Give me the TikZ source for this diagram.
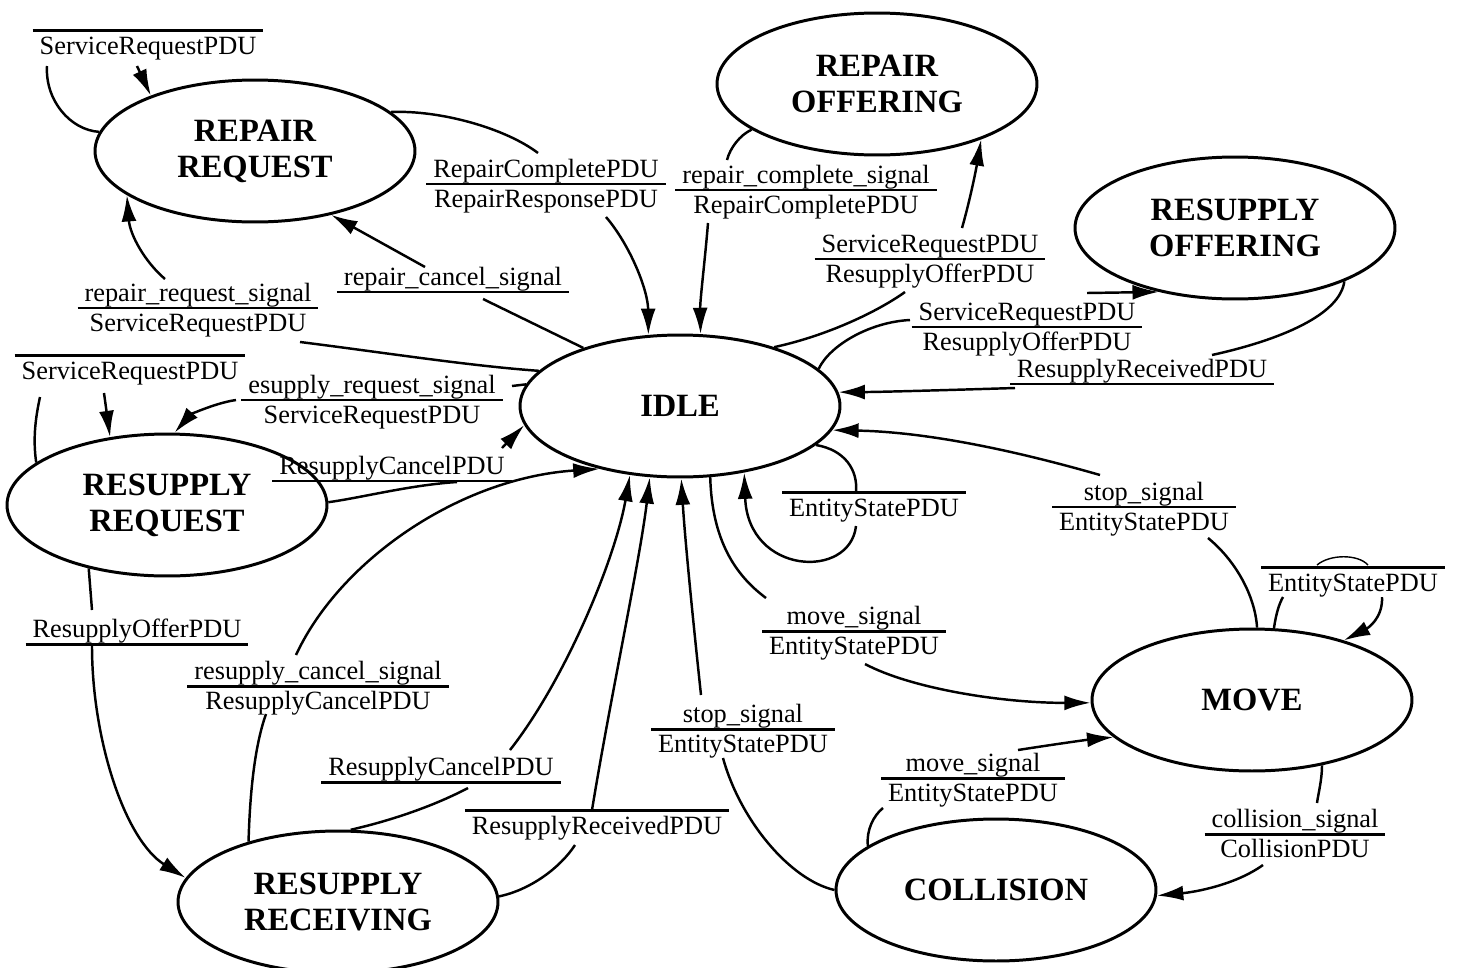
\documentclass[tikz,border=0pt]{standalone}
\usepackage{fontspec}
\setmainfont{Liberation Serif}
\usetikzlibrary{shapes.geometric,arrows.meta,calc}
\setlength{\arrayrulewidth}{1.4pt}
% transition label: input over a bar over output; struts keep the bar at the centre
\newcommand{\tlab}[2]{{\renewcommand{\arraystretch}{0}%
  \begin{tabular}{@{\hspace{4pt}}c@{\hspace{4pt}}}%
  \rule[-2.6pt]{0pt}{16.8pt}#1\\\hline
  \rule[-3.4pt]{0pt}{16pt}#2\end{tabular}}}

\begin{document}
\begin{tikzpicture}[x=0.02cm,y=-0.02cm,
  state/.style={ellipse,draw,line width=1.7pt,minimum width=6.4cm,minimum height=2.84cm,
    inner sep=0pt,align=center,font=\fontsize{18.5}{20.5}\selectfont\bfseries},
  trans/.style={inner sep=0pt,font=\fontsize{15}{18}\selectfont},
  wire/.style={line width=1.4pt},
  arr/.style={wire,-{Latex[length=15pt,width=8.5pt]}}]

\fill[white] (0,0) rectangle (1457,967);
\useasboundingbox (0,0) rectangle (1457,967);

% states
\node[state] (RR)   at (255,151)  {REPAIR\\REQUEST};
\node[state] (RO)   at (877,84)   {REPAIR\\OFFERING};
\node[state] (RSO)  at (1235,228) {RESUPPLY\\OFFERING};
\node[state] (IDLE) at (680,406)  {IDLE};
\node[state] (RSQ)  at (167,505)  {RESUPPLY\\REQUEST};
\node[state] (RRCV) at (338,902)  {RESUPPLY\\RECEIVING};
\node[state] (MOVE) at (1252,700) {MOVE};
\node[state] (COL)  at (996,890)  {COLLISION};

% transition labels (anchored on their bars)
\node[trans] (L1)  at (148,30)   {\tlab{}{ServiceRequestPDU}};
\node[trans] (L2)  at (546,183)  {\tlab{RepairCompletePDU}{RepairResponsePDU}};
\node[trans] (L3)  at (806,189)  {\tlab{repair\_complete\_signal}{RepairCompletePDU}};
\node[trans] (L4)  at (453,291)  {\tlab{repair\_cancel\_signal}{}};
\node[trans] (L5)  at (198,307)  {\tlab{repair\_request\_signal}{ServiceRequestPDU}};
\node[trans] (L6)  at (930,258)  {\tlab{ServiceRequestPDU}{ResupplyOfferPDU}};
\node[trans] (L7)  at (1027,326) {\tlab{ServiceRequestPDU}{ResupplyOfferPDU}};
\node[trans] (L8)  at (1142,383) {\tlab{ResupplyReceivedPDU}{}};
\node[trans] (L9)  at (130,355)  {\tlab{}{ServiceRequestPDU}};
\node[trans] (L10) at (372,399)  {\tlab{esupply\_request\_signal}{ServiceRequestPDU}};
\node[trans] (L11) at (392,480)  {\tlab{ResupplyCancelPDU}{}};
\node[trans] (L12) at (137,643)  {\tlab{ResupplyOfferPDU}{}};
\node[trans] (L13) at (318,685)  {\tlab{resupply\_cancel\_signal}{ResupplyCancelPDU}};
\node[trans] (L14) at (441,781)  {\tlab{ResupplyCancelPDU}{}};
\node[trans] (L15) at (597,810)  {\tlab{}{ResupplyReceivedPDU}};
\node[trans] (L16) at (743,728)  {\tlab{stop\_signal}{EntityStatePDU}};
\node[trans] (L17) at (874,492)  {\tlab{}{EntityStatePDU}};
\node[trans] (L18) at (854,630)  {\tlab{move\_signal}{EntityStatePDU}};
\node[trans] (L19) at (1144,506) {\tlab{stop\_signal}{EntityStatePDU}};
\node[trans] (L20) at (1353,567) {\tlab{}{EntityStatePDU}};
\node[trans] (L21) at (973,777)  {\tlab{move\_signal}{EntityStatePDU}};
\node[trans] (L22) at (1295,833) {\tlab{collision\_signal}{CollisionPDU}};

% REPAIR REQUEST self loop
\draw[wire] (RR.173) .. controls (70,130) and (45,100) .. ($(L1)+(-101,36)$);
\draw[arr]  ($(L1)+(-11,36)$) -- (RR.152);
% REPAIR REQUEST -> IDLE
\draw[wire] (RR.16) .. controls (440,110) and (505,128) .. ($(L2)+(-8,-30)$);
\draw[arr]  ($(L2)+(60,34)$) .. controls (630,245) and (648,290) .. (IDLE.114);
% REPAIR OFFERING -> IDLE
\draw[wire] (RO.200) .. controls (740,135) and (730,148) .. ($(L3)+(-79,-29)$);
\draw[arr]  ($(L3)+(-98,34)$) .. controls (705,260) and (700,300) .. (IDLE.74);
% IDLE -> REPAIR REQUEST (cancel)
\draw[wire] (IDLE.149) -- ($(L4)+(30,8)$);
\draw[arr]  ($(L4)+(-28,-24)$) -- (RR.320);
% IDLE -> REPAIR REQUEST (request)
\draw[wire] (IDLE.166) .. controls (470,366) and (380,352) .. ($(L5)+(102,35)$);
\draw[arr]  ($(L5)+(-33,-28)$) .. controls (145,262) and (130,235) .. (RR.199);
% IDLE -> REPAIR OFFERING
\draw[wire] (IDLE.32) .. controls (830,335) and (880,310) .. ($(L6)+(-25,34)$);
\draw[arr]  ($(L6)+(32,-30)$) .. controls (970,200) and (976,170) .. (RO.332);
% IDLE -> RESUPPLY OFFERING
\draw[wire] (IDLE.15) .. controls (830,345) and (870,322) .. ($(L7)+(-117,-6)$);
\draw[arr]  ($(L7)+(60,-33)$) -- (RSO.220);
% RESUPPLY OFFERING -> IDLE
\draw[wire] (RSO.334) .. controls (1340,315) and (1280,340) .. ($(L8)+(70,-28)$);
\draw[arr]  ($(L8)+(-127,5)$) .. controls (950,390) and (880,392) .. (IDLE.5);
% RESUPPLY REQUEST self loop
\draw[wire] (RSQ.162) .. controls (33,440) and (35,420) .. ($(L9)+(-90,42)$);
\draw[arr]  ($(L9)+(-26,38)$) -- (RSQ.130);
% IDLE -> RESUPPLY REQUEST
\draw[wire] (IDLE.172) -- ($(L10)+(140,-13)$);
\draw[arr]  ($(L10)+(-136,1)$) .. controls (215,403) and (190,415) .. (RSQ.84);
% RESUPPLY REQUEST -> IDLE
\draw[wire] (RSQ.1) .. controls (360,498) and (410,485) .. ($(L11)+(65,2)$);
\draw[arr]  ($(L11)+(110,-32)$) -- (IDLE.187);
% RESUPPLY REQUEST -> RESUPPLY RECEIVING
\draw[wire] (RSQ.219) -- ($(L12)+(-45,-33)$);
\draw[arr]  ($(L12)+(-45,3)$) .. controls (92,740) and (125,840) .. (RRCV.171);
% RESUPPLY RECEIVING -> IDLE (cancel signal)
\draw[wire] (RRCV.146) .. controls (250,790) and (255,745) .. ($(L13)+(-52,29)$);
\draw[arr]  ($(L13)+(-22,-30)$) .. controls (340,560) and (460,478) .. (IDLE.218);
% RESUPPLY RECEIVING -> IDLE (cancel PDU)
\draw[wire] (RRCV.80) .. controls (385,822) and (430,808) .. ($(L14)+(27,7)$);
\draw[arr]  ($(L14)+(69,-31)$) .. controls (565,680) and (615,560) .. (IDLE.234);
% RESUPPLY RECEIVING -> IDLE (received)
\draw[wire] (RRCV.2) .. controls (530,890) and (560,868) .. ($(L15)+(-22,35)$);
\draw[arr]  ($(L15)+(-5,0)$) .. controls (610,700) and (640,560) .. (IDLE.247);
% COLLISION -> IDLE
\draw[wire] (COL.180) .. controls (790,880) and (740,820) .. ($(L16)+(-20,30)$);
\draw[arr]  ($(L16)+(-42,-33)$) .. controls (693,620) and (685,540) .. (IDLE.271);
% IDLE self loop
\draw[wire] (IDLE.344) .. controls (845,450) and (858,470) .. ($(L17)+(-18,0)$);
\draw[arr]  ($(L17)+(-18,34)$) .. controls (850,580) and (748,575) .. (IDLE.314);
% IDLE -> MOVE
\draw[wire] (IDLE.293) .. controls (712,540) and (735,575) .. ($(L18)+(-88,-32)$);
\draw[arr]  ($(L18)+(11,34)$) .. controls (910,688) and (1000,703) .. (MOVE.181);
% MOVE -> IDLE
\draw[wire] (MOVE.86) .. controls (1255,595) and (1235,560) .. ($(L19)+(64,32)$);
\draw[arr]  ($(L19)+(-44,-31)$) .. controls (1020,452) and (930,432) .. (IDLE.351);
% MOVE self loop
\draw[wire] (MOVE.73) .. controls (1276,614) and (1279,604) .. ($(L20)+(-70,30)$);
\draw[arr]  ($(L20)+(29,30)$) .. controls (1383,618) and (1368,628) .. (MOVE.33);
\draw[line width=0.8pt] ($(L20)+(-36,-2)$) .. controls (1330,554) and (1358,554) .. ($(L20)+(15,-2)$);
% COLLISION -> MOVE
\draw[wire] (COL.161) .. controls (866,830) and (874,815) .. ($(L21)+(-90,31)$);
\draw[arr]  ($(L21)+(45,-27)$) .. controls (1050,745) and (1085,740) .. (MOVE.195);
% MOVE -> COLLISION
\draw[wire] (MOVE.317) .. controls (1322,780) and (1318,795) .. ($(L22)+(22,-30)$);
\draw[arr]  ($(L22)+(-32,32)$) .. controls (1235,885) and (1195,892) .. (COL.358);
\end{tikzpicture}
\end{document}
